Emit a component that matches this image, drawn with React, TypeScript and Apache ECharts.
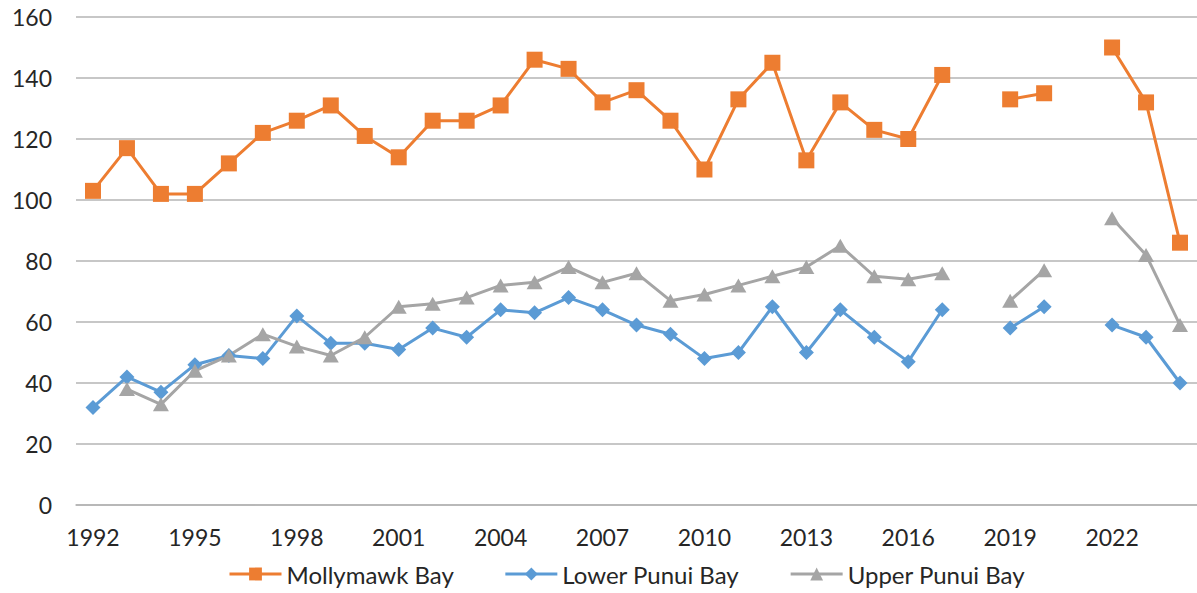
import React, { useEffect, useRef } from "react";
import * as echarts from "echarts";

const years: string[] = [
  "1992","1993","1994","1995","1996","1997","1998","1999","2000","2001","2002",
  "2003","2004","2005","2006","2007","2008","2009","2010","2011","2012","2013",
  "2014","2015","2016","2017","2018","2019","2020","2021","2022","2023","2024",
];

const mollymawk: (number | null)[] = [
  103, 117, 102, 102, 112, 122, 126, 131, 121, 114, 126,
  126, 131, 146, 143, 132, 136, 126, 110, 133, 145, 113,
  132, 123, 120, 141, null, 133, 135, null, 150, 132, 86,
];

const lowerPunui: (number | null)[] = [
  32, 42, 37, 46, 49, 48, 62, 53, 53, 51, 58,
  55, 64, 63, 68, 64, 59, 56, 48, 50, 65, 50,
  64, 55, 47, 64, null, 58, 65, null, 59, 55, 40,
];

const upperPunui: (number | null)[] = [
  null, 38, 33, 44, 49, 56, 52, 49, 55, 65, 66,
  68, 72, 73, 78, 73, 76, 67, 69, 72, 75, 78,
  85, 75, 74, 76, null, 67, 77, null, 94, 82, 59,
];

const seriesNames = ["Mollymawk Bay", "Lower Punui Bay", "Upper Punui Bay"];
const colors = ["#ED7D31", "#5B9BD5", "#A5A5A5"];
const FONT = "Lato, 'Open Sans', sans-serif";

export default function App() {
  const ref = useRef<HTMLDivElement>(null);
  useEffect(() => {
    if (!ref.current) return;
    const chart = echarts.init(ref.current, undefined, { renderer: "svg" });
    const mk = (name: string, data: (number | null)[], color: string, symbol: string, size: number | number[]) => ({
      name,
      type: "line",
      data,
      connectNulls: false,
      symbol,
      symbolSize: size,
      showAllSymbol: true,
      lineStyle: { color, width: 3 },
      itemStyle: { color, borderWidth: 0 },
    });
    chart.setOption({
      animation: false,
      textStyle: { fontFamily: FONT },
      grid: { left: 76, right: 0, top: 17, bottom: 88, containLabel: false },
      legend: {
        bottom: 2,
        left: 223,
        itemWidth: 52,
        itemHeight: 16,
        itemGap: 50,
        lineStyle: { width: 3 },
        textStyle: { fontSize: 24, color: "#262626", fontFamily: FONT },
        data: seriesNames,
      },
      xAxis: {
        type: "category",
        data: years,
        boundaryGap: true,
        axisTick: { show: false },
        axisLine: { show: true, lineStyle: { color: "#b4b4b4", width: 1.5 } },
        axisLabel: { interval: 2, fontSize: 23, color: "#262626", margin: 20, fontFamily: FONT },
      },
      yAxis: {
        type: "value",
        min: 0,
        max: 160,
        interval: 20,
        axisLine: { show: false },
        axisTick: { show: false },
        axisLabel: { fontSize: 23, color: "#262626", margin: 24, fontFamily: FONT },
        splitLine: { lineStyle: { color: "#b4b4b4", width: 1.5 } },
      },
      series: [
        mk(seriesNames[0], mollymawk, colors[0], "rect", 16),
        mk(seriesNames[1], lowerPunui, colors[1], "diamond", 15),
        mk(seriesNames[2], upperPunui, colors[2], "triangle", [16, 14]),
      ],
    });
    return () => chart.dispose();
  }, []);
  return (
    <div
      ref={ref}
      style={{ position: "fixed", left: 0, top: 0, width: 1197, height: 593, background: "#fff" }}
    />
  );
}
